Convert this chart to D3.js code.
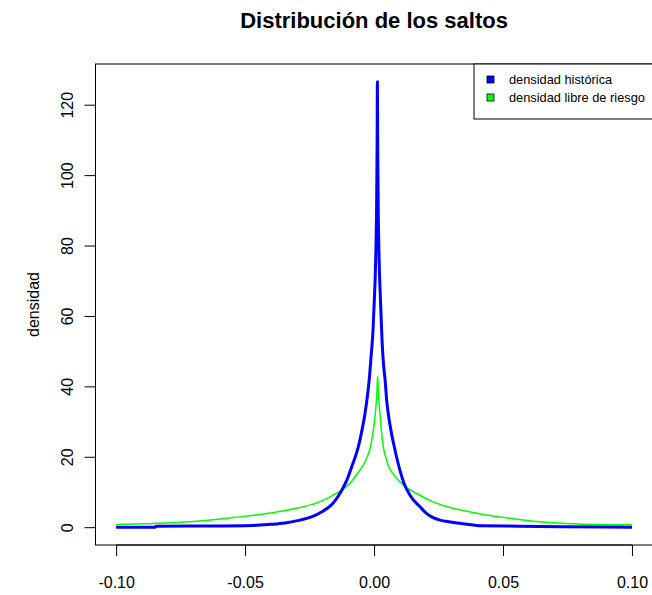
<!DOCTYPE html>
<html>
<head>
<meta charset="utf-8">
<script src="https://cdn.jsdelivr.net/npm/d3@7"></script>
<style>
    body { margin: 0; background: white; }
    text { font-family: "Liberation Sans", Arial, sans-serif; }
</style>
</head>
<body>
<div id="chart"></div>
<script>
const title = "Distribución de los saltos"
const yLabel = "densidad"
const xTicks = [-0.10, -0.05, 0.00, 0.05, 0.10]
const yTicks = [0, 20, 40, 60, 80, 100, 120]
const seriesNames = ["densidad histórica", "densidad libre de riesgo"]
const seriesColors = ["#0000ff", "#00ff00"]

// densidad histórica
const histX = [-0.1000, -0.0849, -0.0845, -0.0674, -0.0469, -0.0403, -0.0345, -0.0287,
    -0.0240, -0.0202, -0.0159, -0.0125, -0.0106, -0.0085, -0.0061, -0.0047, -0.0035,
    -0.0027, -0.0019, -0.0012, -0.0004, 0.0001, 0.0006, 0.0010, 0.0012, 0.0013,
    0.0014, 0.0016, 0.0020, 0.0025, 0.0031, 0.0037, 0.0043, 0.0049, 0.0055,
    0.0068, 0.0081, 0.0091, 0.0101, 0.0116, 0.0140, 0.0178, 0.0202, 0.0229,
    0.0256, 0.0295, 0.0353, 0.0419, 0.0566, 0.0733, 0.1000]
const histY = [0.0, 0.0, 0.3, 0.35, 0.5, 0.8, 1.2, 2.0,
    3.0, 4.4, 6.8, 10.5, 13.3, 17.5, 22.8, 27.5, 32.3,
    36.5, 41.7, 48.0, 56.0, 64.4, 75.0, 92.0, 110.0, 126.5,
    110.0, 92.0, 75.0, 64.4, 53.0, 46.0, 41.7, 36.0, 32.3,
    26.5, 22.0, 18.8, 16.0, 12.5, 9.0, 5.8, 4.0, 2.7,
    2.0, 1.5, 0.9, 0.4, 0.3, 0.1, 0.0]

// densidad libre de riesgo
const riskX = [-0.1000, -0.0888, -0.0771, -0.0655, -0.0547, -0.0442, -0.0353, -0.0287,
    -0.0221, -0.0171, -0.0125, -0.0093, -0.0062, -0.0035, -0.0019, -0.0012, -0.0002,
    0.0005, 0.0011, 0.0014, 0.0017, 0.0023, 0.0029, 0.0036, 0.0047, 0.0055,
    0.0081, 0.0120, 0.0167, 0.0229, 0.0295, 0.0360, 0.0422, 0.0488, 0.0616,
    0.0748, 0.0876, 0.1000]
const riskY = [0.76, 1.0, 1.3, 1.9, 2.75, 3.6, 4.6, 5.6,
    6.9, 8.6, 10.5, 12.5, 15.5, 18.5, 21.5, 23.5, 28.0,
    32.3, 38.0, 42.8, 38.0, 32.3, 27.0, 22.8, 19.5, 17.5,
    14.5, 11.6, 9.5, 7.2, 5.6, 4.5, 3.6, 2.9, 1.7,
    1.05, 0.76, 0.7]

const width = 652
const height = 595
const plot = { left: 95.5, right: 652.6, top: 64, bottom: 545 }

const svg = d3.select("#chart").append("svg")
    .attr("width", width)
    .attr("height", height)

// R-style 4% padding on both axes
const xPad = 0.2 * 0.04
const x = d3.scaleLinear()
    .domain([-0.1 - xPad, 0.1 + xPad])
    .range([plot.left, plot.right])

const yMax = d3.max(histY)
const yPad = yMax * 0.04
const y = d3.scaleLinear()
    .domain([-yPad, yMax + yPad])
    .range([plot.bottom, plot.top])

const line = d3.line()
    .x(d => x(d[0]))
    .y(d => y(d[1]))
    .curve(d3.curveMonotoneX)

svg.append("path")
    .datum(d3.zip(riskX, riskY))
    .attr("d", line)
    .attr("fill", "none")
    .attr("stroke", seriesColors[1])
    .attr("stroke-width", 1.5)

svg.append("path")
    .datum(d3.zip(histX, histY))
    .attr("d", line)
    .attr("fill", "none")
    .attr("stroke", seriesColors[0])
    .attr("stroke-width", 3)
    .attr("stroke-linejoin", "round")

// box
svg.append("rect")
    .attr("x", plot.left)
    .attr("y", plot.top)
    .attr("width", plot.right - plot.left)
    .attr("height", plot.bottom - plot.top)
    .attr("fill", "none")
    .attr("stroke", "black")

const xAxis = d3.axisBottom(x)
    .tickValues(xTicks)
    .tickFormat(d => d.toFixed(2))
    .tickSize(11)
    .tickSizeOuter(0)

const gx = svg.append("g")
    .attr("transform", "translate(0," + plot.bottom + ")")
    .call(xAxis)
gx.select(".domain")
    .attr("d", "M" + x(xTicks[0]) + ",0H" + x(xTicks[xTicks.length - 1]))
gx.selectAll(".tick text")
    .attr("y", 0)
    .attr("dy", 0)
    .attr("transform", "translate(0,43)")
    .attr("font-size", 16)
    .attr("fill", "black")

const yAxis = d3.axisLeft(y)
    .tickValues(yTicks)
    .tickSize(11)
    .tickSizeOuter(0)

const gy = svg.append("g")
    .attr("transform", "translate(" + plot.left + ",0)")
    .call(yAxis)
gy.select(".domain")
    .attr("d", "M0," + y(yTicks[0]) + "V" + y(yTicks[yTicks.length - 1]))
gy.selectAll(".tick text")
    .attr("x", 0)
    .attr("dy", 0)
    .attr("text-anchor", "middle")
    .attr("transform", "translate(-22.5,0) rotate(-90)")
    .attr("font-size", 16)
    .attr("fill", "black")

svg.append("text")
    .attr("x", (plot.left + plot.right) / 2)
    .attr("y", 28)
    .attr("text-anchor", "middle")
    .attr("font-size", 22)
    .attr("font-weight", "bold")
    .text(title)

svg.append("text")
    .attr("transform", "translate(39," + ((plot.top + plot.bottom) / 2) + ") rotate(-90)")
    .attr("text-anchor", "middle")
    .attr("font-size", 16)
    .text(yLabel)

// legend
const legend = svg.append("g")
    .attr("transform", "translate(474," + plot.top + ")")

legend.append("rect")
    .attr("width", plot.right - 474)
    .attr("height", 55)
    .attr("fill", "white")
    .attr("stroke", "black")

seriesNames.forEach((name, i) => {
    legend.append("rect")
        .attr("x", 13)
        .attr("y", 12 + i * 18)
        .attr("width", 7)
        .attr("height", 7)
        .attr("fill", seriesColors[i])
        .attr("stroke", "black")
        .attr("stroke-width", 0.8)
    legend.append("text")
        .attr("x", 35)
        .attr("y", 20 + i * 18)
        .attr("font-size", 12.8)
        .text(name)
})
</script>
</body>
</html>
